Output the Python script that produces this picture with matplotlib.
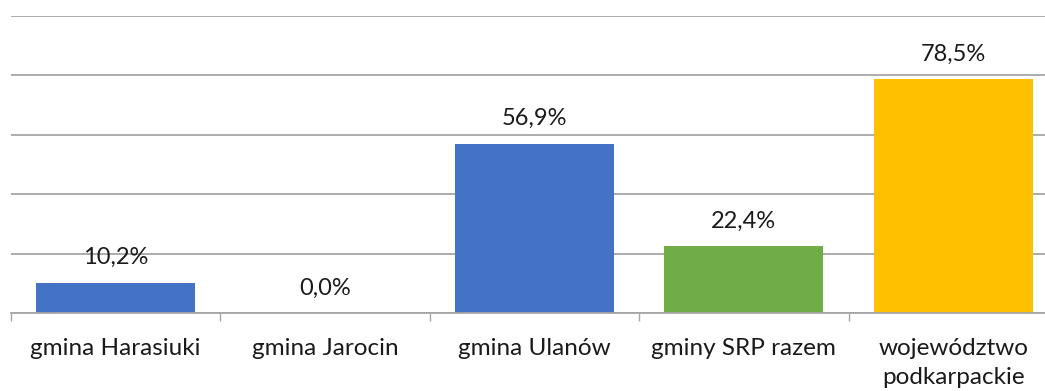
import matplotlib.pyplot as plt
import numpy as np

categories = ["gmina Harasiuki", "gmina Jarocin", "gmina Ulanów", "gminy SRP razem", "województwo\npodkarpackie"]
values = [10.2, 0.0, 56.9, 22.4, 78.5]
colors = ["#4472C4", "#4472C4", "#4472C4", "#70AD47", "#FFC000"]

plt.rcParams['font.family'] = ['Lato', 'DejaVu Sans']

fig = plt.figure(figsize=(10.45, 3.91), dpi=100)
ax = fig.add_axes([11 / 1045, 78 / 391, 1047 / 1045, 297.5 / 391])

x = np.arange(len(categories))
ax.bar(x, values, width=0.76, color=colors, zorder=3)

ax.set_xlim(-0.5, len(categories) - 0.5)
ax.set_ylim(0, 100)
ax.set_yticks(np.arange(0, 101, 20))
ax.yaxis.grid(True, color="#a6a6a6", linewidth=1.3, zorder=0)
ax.tick_params(axis='y', left=False, labelleft=False)

for s in ["top", "right", "left"]:
    ax.spines[s].set_visible(False)
ax.spines["bottom"].set_color("#a6a6a6")
ax.spines["bottom"].set_linewidth(1.3)
ax.spines["bottom"].set_zorder(4)

ax.set_xticks(x)
ax.set_xticklabels(categories, fontsize=17.5, color="#1a1a1a", linespacing=1.45)
ax.tick_params(axis='x', which='major', length=0, pad=18)
ax.set_xticks(np.arange(-0.5, len(categories), 1), minor=True)
ax.tick_params(axis='x', which='minor', length=6, width=1.0, color="#a6a6a6")

for xi, v in zip(x, values):
    ax.annotate(f"{v:.1f}%".replace(".", ","), (xi, v), xytext=(0, 18),
                textcoords="offset points", ha="center", va="center",
                fontsize=17, color="#1a1a1a")

fig.savefig("out.png", dpi=100)
